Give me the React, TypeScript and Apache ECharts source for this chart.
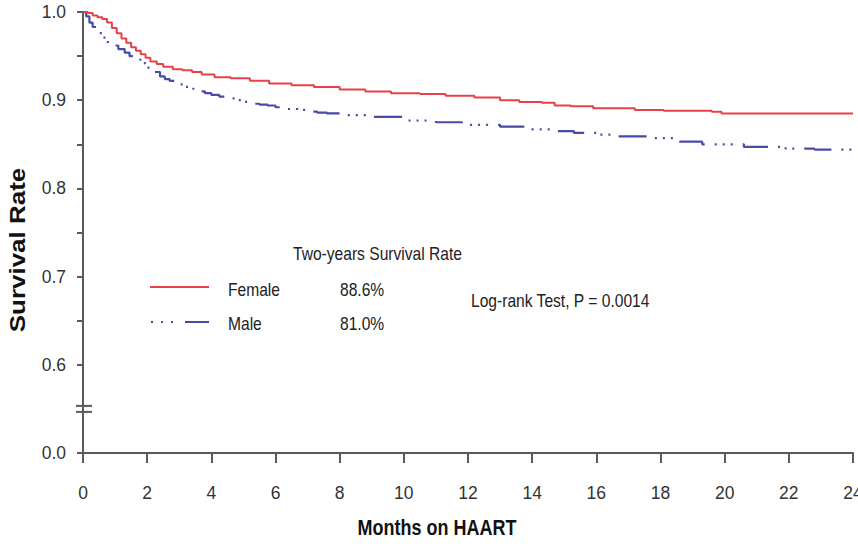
import React, { useEffect, useRef } from "react";
import * as echarts from "echarts";

const xTicks = [0, 2, 4, 6, 8, 10, 12, 14, 16, 18, 20, 22, 24];

const femaleMonths = [0, 0.15, 0.3, 0.45, 0.6, 0.75, 0.9, 1.05, 1.2, 1.35, 1.5, 1.65, 1.8, 1.95, 2.1, 2.3, 2.5, 2.8, 3.1, 3.4, 3.7, 4.1, 4.6, 5.2, 5.8, 6.5, 7.2, 8.0, 8.8, 9.6, 10.5, 11.3, 12.2, 13.0, 13.6, 14.3, 14.7, 15.2, 15.9, 17.2, 18.1, 19.6, 19.9, 24];
const femaleSurvival = [1.0, 0.999, 0.996, 0.994, 0.992, 0.988, 0.982, 0.976, 0.970, 0.965, 0.960, 0.956, 0.952, 0.948, 0.944, 0.941, 0.938, 0.935, 0.934, 0.932, 0.929, 0.926, 0.925, 0.922, 0.919, 0.917, 0.915, 0.912, 0.910, 0.908, 0.907, 0.905, 0.903, 0.900, 0.898, 0.897, 0.894, 0.893, 0.891, 0.889, 0.888, 0.887, 0.885, 0.885];

const maleMonths = [0, 0.1, 0.2, 0.3, 0.45, 0.6, 0.75, 0.9, 1.1, 1.3, 1.45, 1.6, 1.8, 2.0, 2.2, 2.4, 2.55, 2.7, 2.85, 3.0, 3.15, 3.3, 3.45, 3.6, 3.8, 4.0, 4.25, 4.5, 4.75, 5.0, 5.25, 5.5, 5.75, 6.0, 6.35, 6.7, 7.0, 7.3, 7.6, 8.0, 9.0, 10.0, 11.0, 12.0, 13.0, 14.0, 14.7, 15.3, 16.0, 16.6, 17.8, 18.6, 19.3, 20.6, 21.9, 22.8, 24];
const maleSurvival = [1.0, 0.995, 0.988, 0.983, 0.976, 0.971, 0.966, 0.962, 0.958, 0.954, 0.950, 0.946, 0.942, 0.937, 0.932, 0.927, 0.924, 0.922, 0.920, 0.918, 0.915, 0.913, 0.911, 0.910, 0.908, 0.906, 0.904, 0.902, 0.900, 0.898, 0.896, 0.895, 0.894, 0.892, 0.890, 0.889, 0.887, 0.886, 0.885, 0.883, 0.881, 0.877, 0.875, 0.872, 0.870, 0.867, 0.865, 0.863, 0.861, 0.859, 0.857, 0.853, 0.850, 0.847, 0.845, 0.844, 0.844];

const yTickValues = [0.5, 0.6, 0.65, 0.7, 0.75, 0.8, 0.85, 0.9, 0.95, 1.0];
const yLabelValues = [0.5, 0.6, 0.7, 0.8, 0.9, 1.0];

const legendTitle = "Two-years Survival Rate";
const seriesNames = ["Female", "Male"];
const twoYearRates = ["88.6%", "81.0%"];
const testText = "Log-rank Test, P = 0.0014";
const xName = "Months on HAART";
const yName = "Survival Rate";

const RED = "#e8404a";
const BLUE = "#4a4aa8";
const AXIS = "#5a5a5a";
const FONT = "'Liberation Sans', Arial, sans-serif";
const maleDash = [28, 10, 2, 6, 2, 6, 2, 10];

export default function App() {
  const ref = useRef<HTMLDivElement>(null);

  useEffect(() => {
    document.body.style.margin = "0";
    if (!ref.current) return;
    const chart = echarts.init(ref.current, null, { renderer: "svg" });

    const femaleData = femaleMonths.map((m, i) => [m, femaleSurvival[i]]);
    const maleData = maleMonths.map((m, i) => [m, maleSurvival[i]]);

    chart.setOption({
      animation: false,
      backgroundColor: "#ffffff",
      grid: { left: 83, right: 5, top: 12, bottom: 97, containLabel: false, outerBoundsMode: "none" },
      xAxis: {
        type: "value",
        min: 0,
        max: 24,
        interval: 2,
        axisLine: { show: true, onZero: false, lineStyle: { color: AXIS, width: 2 } },
        axisTick: { show: true, inside: false, length: 10, lineStyle: { color: AXIS, width: 2 } },
        axisLabel: {
          margin: 31,
          fontSize: 17.5,
          fontFamily: FONT,
          color: "#333",
          hideOverlap: false,
          showMaxLabel: true,
          formatter: (v: number) => (xTicks.includes(v) ? String(v) : ""),
        },
        splitLine: { show: false },
      },
      yAxis: {
        type: "value",
        min: 0.5,
        max: 1.0,
        interval: 0.05,
        axisLine: { show: true, onZero: false, lineStyle: { color: AXIS, width: 2 } },
        axisTick: {
          show: true,
          length: 6,
          customValues: yTickValues,
          lineStyle: { color: AXIS, width: 2 },
        },
        axisLabel: {
          margin: 17,
          fontSize: 17.5,
          fontFamily: FONT,
          color: "#333",
          customValues: yLabelValues,
          formatter: (v: number) => (v < 0.55 ? "0.0" : v.toFixed(1)),
        },
        splitLine: { show: false },
      },
      series: [
        {
          name: seriesNames[0],
          type: "line",
          step: "end",
          showSymbol: false,
          data: femaleData,
          lineStyle: { color: RED, width: 2 },
          itemStyle: { color: RED },
          z: 3,
        },
        {
          name: seriesNames[1],
          type: "line",
          step: "end",
          showSymbol: false,
          data: maleData,
          lineStyle: { color: BLUE, width: 2.2, type: maleDash },
          itemStyle: { color: BLUE },
          z: 2,
        },
      ],
    });

    const ax = chart.convertToPixel({ xAxisIndex: 0 }, 0) as number;
    const by = chart.convertToPixel({ yAxisIndex: 0 }, 0.55) as number;

    const label = (text: string, x: number, y: number, size = 15.6, extra: any = {}) => ({
      type: "text",
      x,
      y,
      scaleY: 1.22,
      style: {
        text,
        fontSize: size,
        fontFamily: FONT,
        fill: "#222",
        verticalAlign: "middle",
        ...extra,
      },
    });

    chart.setOption({
      graphic: [
        // axis break marks
        { type: "rect", shape: { x: ax - 8, y: by - 3, width: 16, height: 6 }, style: { fill: "#fff" }, z: 10 },
        { type: "line", shape: { x1: ax - 7, y1: by - 3, x2: ax + 9, y2: by - 3 }, style: { stroke: AXIS, lineWidth: 2 }, z: 11 },
        { type: "line", shape: { x1: ax - 7, y1: by + 3, x2: ax + 9, y2: by + 3 }, style: { stroke: AXIS, lineWidth: 2 }, z: 11 },
        { type: "line", shape: { x1: ax, y1: by - 3, x2: ax, y2: by + 3 }, style: { stroke: AXIS, lineWidth: 2 }, z: 11 },
        // axis names
        label(xName, 437, 527, 18, { fontWeight: "bold", align: "center", fill: "#111" }),
        {
          type: "text",
          x: 17,
          y: 250,
          rotation: Math.PI / 2,
          scaleX: 1.18,
          style: { text: yName, fontSize: 22, fontWeight: "bold", fontFamily: FONT, fill: "#111", align: "center", verticalAlign: "middle" },
        },
        // legend
        label(legendTitle, 293, 253),
        { type: "line", shape: { x1: 150, y1: 287, x2: 209, y2: 287 }, style: { stroke: RED, lineWidth: 2 } },
        label(seriesNames[0], 228, 289),
        label(twoYearRates[0], 340, 289),
        { type: "line", shape: { x1: 151, y1: 322, x2: 209, y2: 322 }, style: { stroke: BLUE, lineWidth: 2, lineDash: [2, 8, 2, 8, 2, 12, 24, 100] } },
        label(seriesNames[1], 228, 323),
        label(twoYearRates[1], 340, 323),
        // test result
        label(testText, 471, 300),
      ],
    });

    return () => chart.dispose();
  }, []);

  return <div ref={ref} style={{ width: 858, height: 550 }} />;
}
